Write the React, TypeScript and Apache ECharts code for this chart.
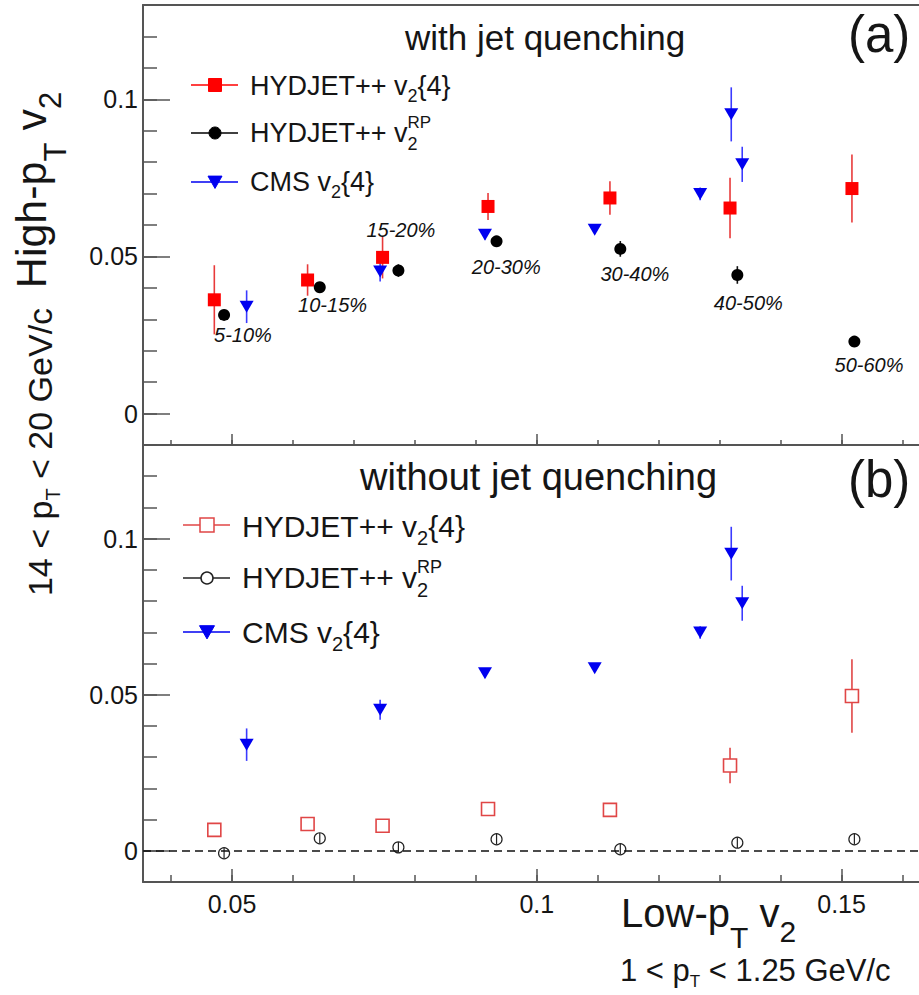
import React, { useEffect, useRef } from "react";
import * as echarts from "echarts";

// ---------- axis set-up values ----------
const X_MIN = 0.0354;
const X_MAX = 0.1627;
const Y_MIN = -0.01;
const Y_MAX = 0.13;
const xTicksMinor = [0.04, 0.05, 0.06, 0.07, 0.08, 0.09, 0.1, 0.11, 0.12, 0.13, 0.14, 0.15, 0.16];
const xTicksMajor = [0.05, 0.1, 0.15];
const yTicksMinor = [-0.01, 0, 0.01, 0.02, 0.03, 0.04, 0.05, 0.06, 0.07, 0.08, 0.09, 0.1, 0.11, 0.12];
const yTicksMajor = [0, 0.05, 0.1];

// ---------- data: (a) with jet quenching ----------
const xHydV24 = [0.0471, 0.0624, 0.0747, 0.092, 0.112, 0.1317, 0.1517];
const yHydV24JQ = [0.0362, 0.0425, 0.0497, 0.0659, 0.0686, 0.0654, 0.0716];
const eHydV24JQ = [0.011, 0.005, 0.0067, 0.0043, 0.0053, 0.0096, 0.0108];

const xHydRP = [0.0487, 0.0644, 0.0773, 0.0934, 0.1137, 0.1329, 0.1521];
const yHydRPJQ = [0.0314, 0.0402, 0.0455, 0.0548, 0.0524, 0.0441, 0.0229];
const eHydRPJQ = [0.0015, 0.0015, 0.002, 0.0015, 0.0025, 0.0028, 0.0015];

// CMS data (same in both panels)
const xCMS = [0.0524, 0.0743, 0.0915, 0.1095, 0.1268, 0.1319, 0.1337];
const yCMS = [0.034, 0.0452, 0.0569, 0.0585, 0.0699, 0.0952, 0.0793];
const eCMS = [0.0052, 0.0032, 0.0015, 0.0012, 0.002, 0.0086, 0.0056];

// ---------- data: (b) without jet quenching ----------
const yHydV24NoJQ = [0.0067, 0.0086, 0.008, 0.0134, 0.0131, 0.0273, 0.0496];
const eHydV24NoJQ = [0.001, 0.001, 0.001, 0.001, 0.001, 0.0057, 0.0118];
const yHydRPNoJQ = [-0.0008, 0.004, 0.0011, 0.0037, 0.0005, 0.0026, 0.0037];
const eHydRPNoJQ = [0.0017, 0.0017, 0.0017, 0.0017, 0.0017, 0.0017, 0.0017];

// ---------- centrality annotations (panel a) ----------
const centLabels = ["5-10%", "10-15%", "15-20%", "20-30%", "30-40%", "40-50%", "50-60%"];
const centLabelX = [0.0518, 0.0665, 0.0777, 0.095, 0.1161, 0.1347, 0.1545];
const centLabelY = [0.025, 0.0346, 0.0585, 0.0467, 0.0445, 0.0352, 0.0154];

const FONT = '"Liberation Sans", Arial, Helvetica, sans-serif';
const AX = "#555";
const TXT = "#151515";
const RED = "#ff0000";
const RED_BAR = "#e83a3a";
const RED_OPEN = "#e04646";
const BLUE = "#0000f0";
const BLUE_BAR = "#3b3bff";

let measureCtx: CanvasRenderingContext2D | null = null;
function tw(t: string, s: number, italic = false): number {
  if (!measureCtx) measureCtx = document.createElement("canvas").getContext("2d");
  if (!measureCtx) return t.length * s * 0.55;
  measureCtx.font = `${italic ? "italic " : ""}${s}px ${FONT}`;
  return measureCtx.measureText(t).width;
}

type Part = { t: string; s: number; dy?: number; stack?: boolean };

// sequence of text runs on a common baseline (baseline y = base)
function textRun(x0: number, base: number, parts: Part[], fill = TXT) {
  const els: any[] = [];
  let x = x0;
  let prevStart = x0;
  let prevW = 0;
  for (const p of parts) {
    let start = x;
    const w = tw(p.t, p.s);
    if (p.stack) {
      start = prevStart;
      x = prevStart + Math.max(prevW, w);
    } else {
      x = start + w;
    }
    const yb = base + (p.dy || 0);
    els.push({
      type: "text",
      x: start,
      y: yb - 0.3465 * p.s,
      z: 10,
      style: {
        text: p.t,
        fontSize: p.s,
        fontFamily: FONT,
        fill,
        align: "left",
        textAlign: "left",
        verticalAlign: "middle",
        textVerticalAlign: "middle",
      },
    });
    prevStart = start;
    prevW = w;
  }
  return { els, width: x - x0 };
}

function runWidth(parts: Part[]) {
  let w = 0;
  let prevW = 0;
  for (const p of parts) {
    const pw = tw(p.t, p.s);
    if (p.stack) {
      w = w - prevW + Math.max(prevW, pw);
    } else {
      w += pw;
    }
    prevW = pw;
  }
  return w;
}

function legendRow(
  lx1: number,
  lx2: number,
  mx: number,
  my: number,
  color: string,
  marker: string,
  filled: boolean,
  size: number,
  tx: number,
  base: number,
  parts: Part[]
) {
  const els: any[] = [];
  els.push({
    type: "line",
    z: 9,
    shape: { x1: lx1, y1: my, x2: lx2, y2: my },
    style: { stroke: color, lineWidth: 1.6 },
  });
  const st = filled
    ? { fill: color, stroke: color, lineWidth: 1 }
    : { fill: "#ffffff", stroke: color, lineWidth: 1.5 };
  if (marker === "rect") {
    els.push({ type: "rect", z: 10, shape: { x: mx - size / 2, y: my - size / 2, width: size, height: size }, style: st });
  } else if (marker === "circle") {
    els.push({ type: "circle", z: 10, shape: { cx: mx, cy: my, r: size / 2 }, style: st });
  } else {
    els.push({
      type: "polygon",
      z: 10,
      shape: { points: [[mx - size / 2, my - size * 0.42], [mx + size / 2, my - size * 0.42], [mx, my + size * 0.46]] },
      style: st,
    });
  }
  els.push(...textRun(tx, base, parts).els);
  return els;
}

function errSeries(xs: number[], ys: number[], es: number[], color: string, width: number, axis: number) {
  return {
    type: "custom",
    xAxisIndex: axis,
    yAxisIndex: axis,
    z: 2,
    silent: true,
    data: xs.map((x, i) => [x, ys[i], es[i]]),
    encode: { x: 0, y: 1 },
    renderItem: (_params: any, api: any) => {
      const x = api.value(0);
      const y = api.value(1);
      const e = api.value(2);
      const a = api.coord([x, y + e]);
      const b = api.coord([x, y - e]);
      return {
        type: "line",
        shape: { x1: a[0], y1: a[1], x2: b[0], y2: b[1] },
        style: { stroke: color, lineWidth: width },
      };
    },
  };
}

const frameLine = { show: true, onZero: false, lineStyle: { color: AX, width: 2 } };

function xAxes(grid: number, minorLen: number, majorLen: number, labels: boolean) {
  const base = {
    type: "value",
    gridIndex: grid,
    min: X_MIN,
    max: X_MAX,
    position: "bottom",
    splitLine: { show: false },
  };
  return [
    {
      ...base,
      axisLine: frameLine,
      axisTick: { show: true, inside: true, length: minorLen, customValues: xTicksMinor, lineStyle: { color: AX, width: 1.5 } },
      axisLabel: { show: false },
    },
    {
      ...base,
      axisLine: { show: false, onZero: false },
      axisTick: { show: true, inside: true, length: majorLen, customValues: xTicksMajor, lineStyle: { color: AX, width: 1.5 } },
      axisLabel: {
        show: labels,
        customValues: xTicksMajor,
        fontSize: 25,
        fontFamily: FONT,
        color: TXT,
        margin: 9,
        formatter: (v: number) => String(Math.round(v * 100) / 100),
      },
    },
  ];
}

function yAxes(grid: number) {
  const base = {
    type: "value",
    gridIndex: grid,
    min: Y_MIN,
    max: Y_MAX,
    position: "left",
    splitLine: { show: false },
  };
  return [
    {
      ...base,
      axisLine: frameLine,
      axisTick: { show: true, inside: true, length: 14, customValues: yTicksMinor, lineStyle: { color: AX, width: 1.5 } },
      axisLabel: { show: false },
    },
    {
      ...base,
      axisLine: { show: false, onZero: false },
      axisTick: { show: true, inside: true, length: 27, customValues: yTicksMajor, lineStyle: { color: AX, width: 1.5 } },
      axisLabel: {
        show: true,
        customValues: yTicksMajor,
        fontSize: 25,
        fontFamily: FONT,
        color: TXT,
        margin: 5,
        formatter: (v: number) => String(Math.round(v * 100) / 100),
      },
    },
  ];
}

function buildGraphic() {
  const g: any[] = [];
  // panel titles
  g.push(...textRun(405, 50, [{ t: "with jet quenching", s: 35 }]).els);
  g.push(...textRun(848, 52, [{ t: "(a)", s: 51 }]).els);
  g.push(...textRun(360, 490, [{ t: "without jet quenching", s: 38 }]).els);
  g.push(...textRun(848, 497, [{ t: "(b)", s: 51 }]).els);

  // legend (a)
  g.push(
    ...legendRow(191, 238, 215, 85, RED, "rect", true, 13, 250, 95, [
      { t: "HYDJET++ v", s: 27 },
      { t: "2", s: 18, dy: 7 },
      { t: "{4}", s: 27 },
    ])
  );
  g.push(
    ...legendRow(191, 238, 215, 133, "#000", "circle", true, 12, 250, 142.7, [
      { t: "HYDJET++ v", s: 27 },
      { t: "RP", s: 17, dy: -14 },
      { t: "2", s: 18, dy: 8, stack: true },
    ])
  );
  g.push(
    ...legendRow(191, 238, 215, 182, BLUE, "tri", true, 14, 250, 191.7, [
      { t: "CMS v", s: 27 },
      { t: "2", s: 18, dy: 7 },
      { t: "{4}", s: 27 },
    ])
  );
  // legend (b)
  g.push(
    ...legendRow(183, 230, 207, 525, RED_OPEN, "rect", false, 14, 242, 536.7, [
      { t: "HYDJET++ v", s: 30 },
      { t: "2", s: 20, dy: 8 },
      { t: "{4}", s: 30 },
    ])
  );
  g.push(
    ...legendRow(183, 230, 207, 578, "#222", "circle", false, 12, 242, 588.3, [
      { t: "HYDJET++ v", s: 30 },
      { t: "RP", s: 18, dy: -15 },
      { t: "2", s: 20, dy: 9, stack: true },
    ])
  );
  g.push(
    ...legendRow(183, 230, 207, 632, BLUE, "tri", true, 15, 242, 643.3, [
      { t: "CMS v", s: 30 },
      { t: "2", s: 20, dy: 8 },
      { t: "{4}", s: 30 },
    ])
  );

  // x-axis titles
  g.push(
    ...textRun(621, 927, [
      { t: "Low-p", s: 40 },
      { t: "T", s: 30, dy: 21 },
      { t: " v", s: 40 },
      { t: "2", s: 30, dy: 15 },
    ]).els
  );
  g.push(
    ...textRun(620, 981, [
      { t: "1 < p", s: 31 },
      { t: "T", s: 17, dy: 6 },
      { t: " < 1.25 GeV/c", s: 31 },
    ]).els
  );

  // y-axis titles (rotated)
  const hiParts: Part[] = [
    { t: "High-p", s: 43 },
    { t: "T", s: 31, dy: 20 },
    { t: " v", s: 43 },
    { t: "2", s: 31, dy: 15 },
  ];
  const hiW = runWidth(hiParts);
  g.push({
    type: "group",
    x: 46,
    y: 190,
    rotation: Math.PI / 2,
    children: textRun(-hiW / 2, 0, hiParts).els,
  });
  const loParts: Part[] = [
    { t: "14 < p", s: 34 },
    { t: "T", s: 20, dy: 8 },
    { t: " < 20 GeV/c", s: 34 },
  ];
  const loW = runWidth(loParts);
  g.push({
    type: "group",
    x: 52,
    y: 452,
    rotation: Math.PI / 2,
    children: textRun(-loW / 2, 0, loParts).els,
  });
  return g;
}

export default function App() {
  const ref = useRef<HTMLDivElement>(null);
  useEffect(() => {
    document.body.style.margin = "0";
    if (!ref.current) return;
    const chart = echarts.init(ref.current, undefined, { renderer: "svg" });
    const option: any = {
      animation: false,
      backgroundColor: "#ffffff",
      grid: [
        { left: 143, top: 5, right: 0, height: 440, show: false },
        { left: 143, top: 445, right: 0, height: 437, show: false },
      ],
      xAxis: [
        ...xAxes(0, 5, 11, false),
        ...xAxes(1, 7, 13, true),
        {
          type: "value",
          gridIndex: 0,
          min: X_MIN,
          max: X_MAX,
          position: "top",
          axisLine: frameLine,
          axisTick: { show: false },
          axisLabel: { show: false },
          splitLine: { show: false },
        },
      ],
      yAxis: [...yAxes(0), ...yAxes(1)],
      series: [
        // ---- panel (a)
        errSeries(xHydV24, yHydV24JQ, eHydV24JQ, RED_BAR, 1.6, 0),
        errSeries(xHydRP, yHydRPJQ, eHydRPJQ, "#111", 1.6, 0),
        errSeries(xCMS, yCMS, eCMS, BLUE_BAR, 1.6, 0),
        {
          type: "scatter",
          xAxisIndex: 0,
          yAxisIndex: 0,
          symbol: "rect",
          symbolSize: 13,
          z: 3,
          itemStyle: { color: RED, opacity: 1 },
          data: xHydV24.map((x, i) => [x, yHydV24JQ[i]]),
        },
        {
          type: "scatter",
          xAxisIndex: 0,
          yAxisIndex: 0,
          symbol: "circle",
          symbolSize: 12,
          z: 3,
          itemStyle: { color: "#000", opacity: 1 },
          data: xHydRP.map((x, i) => [x, yHydRPJQ[i]]),
        },
        {
          type: "scatter",
          xAxisIndex: 0,
          yAxisIndex: 0,
          symbol: "triangle",
          symbolRotate: 180,
          symbolSize: [14, 12],
          z: 3,
          itemStyle: { color: BLUE, opacity: 1 },
          data: xCMS.map((x, i) => [x, yCMS[i]]),
        },
        {
          type: "scatter",
          xAxisIndex: 0,
          yAxisIndex: 0,
          symbolSize: 1,
          z: 5,
          silent: true,
          itemStyle: { color: "rgba(255,255,255,0)", opacity: 1 },
          label: {
            show: true,
            position: "inside",
            formatter: "{b}",
            fontStyle: "italic",
            fontSize: 20,
            fontFamily: FONT,
            color: "#111111",
            opacity: 1,
            textBorderWidth: 0,
            textBorderColor: "transparent",
            textShadowBlur: 0,
          },
          data: centLabels.map((t, i) => ({ name: t, value: [centLabelX[i], centLabelY[i]] })),
        },
        // ---- panel (b)
        errSeries(xHydV24, yHydV24NoJQ, eHydV24NoJQ, RED_OPEN, 1.6, 2),
        errSeries(xHydRP, yHydRPNoJQ, eHydRPNoJQ, "#222", 1.2, 2),
        errSeries(xCMS, yCMS, eCMS, BLUE_BAR, 1.6, 2),
        {
          type: "scatter",
          xAxisIndex: 2,
          yAxisIndex: 2,
          symbol: "rect",
          symbolSize: 13,
          z: 3,
          itemStyle: { color: "#ffffff", borderColor: RED_OPEN, borderWidth: 1.6, opacity: 1 },
          data: xHydV24.map((x, i) => [x, yHydV24NoJQ[i]]),
        },
        {
          type: "scatter",
          xAxisIndex: 2,
          yAxisIndex: 2,
          symbol: "circle",
          symbolSize: 11,
          z: 3,
          itemStyle: { color: "rgba(0,0,0,0)", borderColor: "#222", borderWidth: 1.2, opacity: 1 },
          data: xHydRP.map((x, i) => [x, yHydRPNoJQ[i]]),
          markLine: {
            silent: true,
            symbol: ["none", "none"],
            label: { show: false },
            lineStyle: { color: "#111", type: [8, 5], width: 1.5 },
            data: [{ yAxis: 0 }],
          },
        },
        {
          type: "scatter",
          xAxisIndex: 2,
          yAxisIndex: 2,
          symbol: "triangle",
          symbolRotate: 180,
          symbolSize: [14, 12],
          z: 3,
          itemStyle: { color: BLUE, opacity: 1 },
          data: xCMS.map((x, i) => [x, yCMS[i]]),
        },
      ],
      graphic: buildGraphic(),
    };
    chart.setOption(option);
    return () => {
      chart.dispose();
    };
  }, []);
  return <div ref={ref} style={{ width: 919, height: 995 }} />;
}
